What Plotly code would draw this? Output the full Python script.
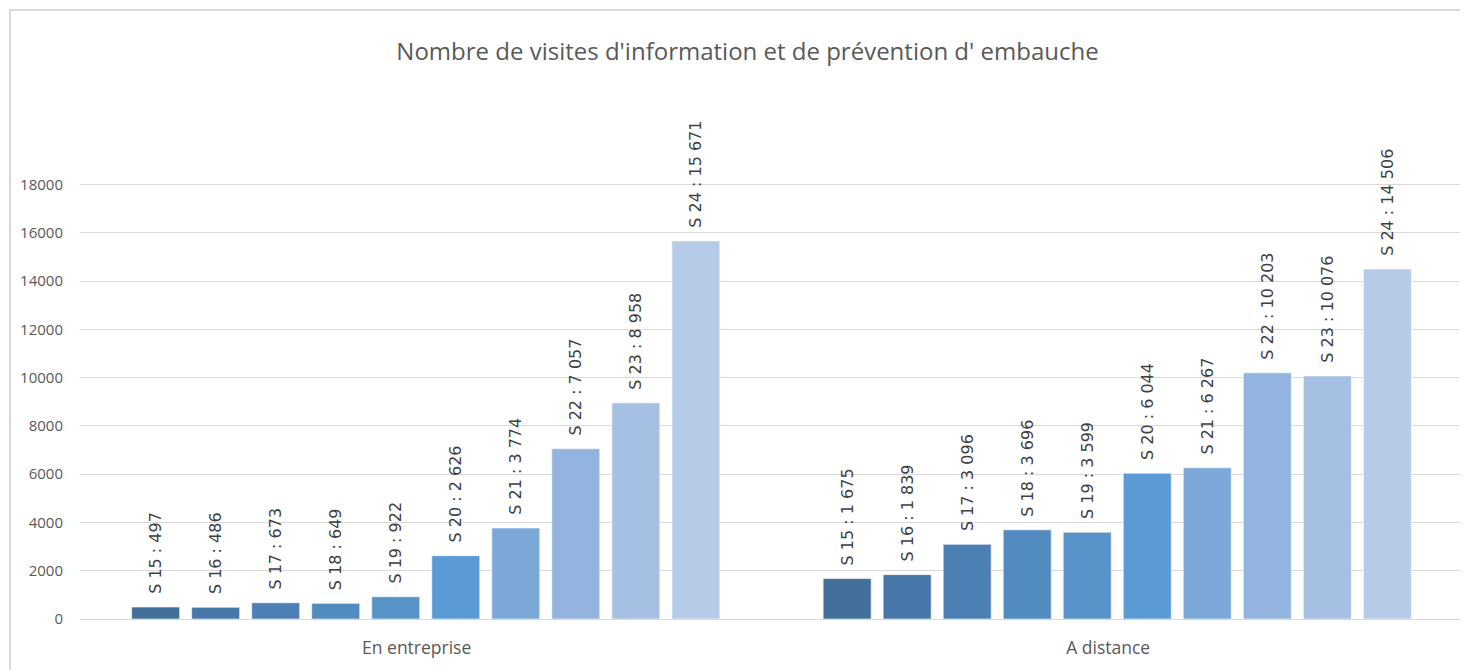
import plotly.graph_objects as go

categories = ["En entreprise", "A distance"]
series = ["S 15", "S 16", "S 17", "S 18", "S 19", "S 20", "S 21", "S 22", "S 23", "S 24"]
en_entreprise = [497, 486, 673, 649, 922, 2626, 3774, 7057, 8958, 15671]
a_distance = [1675, 1839, 3096, 3696, 3599, 6044, 6267, 10203, 10076, 14506]
colors = ["#426f9b", "#4677a8", "#4c80b4", "#528bc0", "#5792c8",
          "#5b9bd5", "#7ca8d9", "#92b4df", "#a5c0e3", "#b6cbe8"]
tick_vals = [0, 2000, 4000, 6000, 8000, 10000, 12000, 14000, 16000, 18000]
title = "Nombre de visites d'information et de prévention d' embauche"


def fmt(v):
    return f"{v:,}".replace(",", "\u00a0")


fig = go.Figure()
for i, s in enumerate(series):
    vals = [en_entreprise[i], a_distance[i]]
    fig.add_trace(go.Bar(
        name=s,
        x=categories,
        y=vals,
        marker=dict(color=colors[i], line=dict(color="rgba(255,255,255,0.6)", width=1)),
        text=[f"\u00a0\u00a0{s} : {fmt(v)}" for v in vals],
        textposition="outside",
        textangle=-90,
        textfont=dict(family="DejaVu Sans, sans-serif", size=16, color="#404040"),
        cliponaxis=False,
    ))

# page has an 8px body margin; figure is sized to fit inside the window
W, H = 1460, 662
L, R, T, B = 72, 5, 102, 51
pw, ph = W - L - R, H - T - B

fig.update_layout(
    width=W, height=H,
    margin=dict(l=L, r=R, t=T, b=B),
    paper_bgcolor="white", plot_bgcolor="white",
    barmode="group", bargap=0.132, bargroupgap=0.2,
    showlegend=False,
    uniformtext=dict(minsize=16, mode="show"),
    title=dict(text=title, x=(747.5 - 8) / W, xanchor="center", y=1 - 44 / H, yanchor="middle",
               font=dict(family="Open Sans, sans-serif", size=24, color="#595959")),
    xaxis=dict(showgrid=False, showline=False, ticks="", ticklabelstandoff=16,
               tickvals=categories,
               ticktext=[c + "\u00a0" * 4 for c in categories],
               tickfont=dict(family="Open Sans, sans-serif", size=17.5, color="#595959")),
    yaxis=dict(range=[0, 21096], tickvals=tick_vals, ticktext=[str(v) for v in tick_vals],
               showgrid=True, gridcolor="#d9d9d9", gridwidth=1,
               zeroline=True, zerolinecolor="#d9d9d9", zerolinewidth=1,
               showline=False, ticks="", ticklabelstandoff=16,
               tickfont=dict(family="Open Sans, sans-serif", size=15, color="#595959")),
    shapes=[dict(type="rect", xref="paper", yref="paper",
                 x0=(2 - L) / pw, x1=(W + 20 - L) / pw,
                 y0=-(B + 20) / ph, y1=(H - B - 2) / ph,
                 line=dict(color="#d9d9d9", width=2), fillcolor="rgba(0,0,0,0)", layer="below")],
)

fig.write_html("out.html")
